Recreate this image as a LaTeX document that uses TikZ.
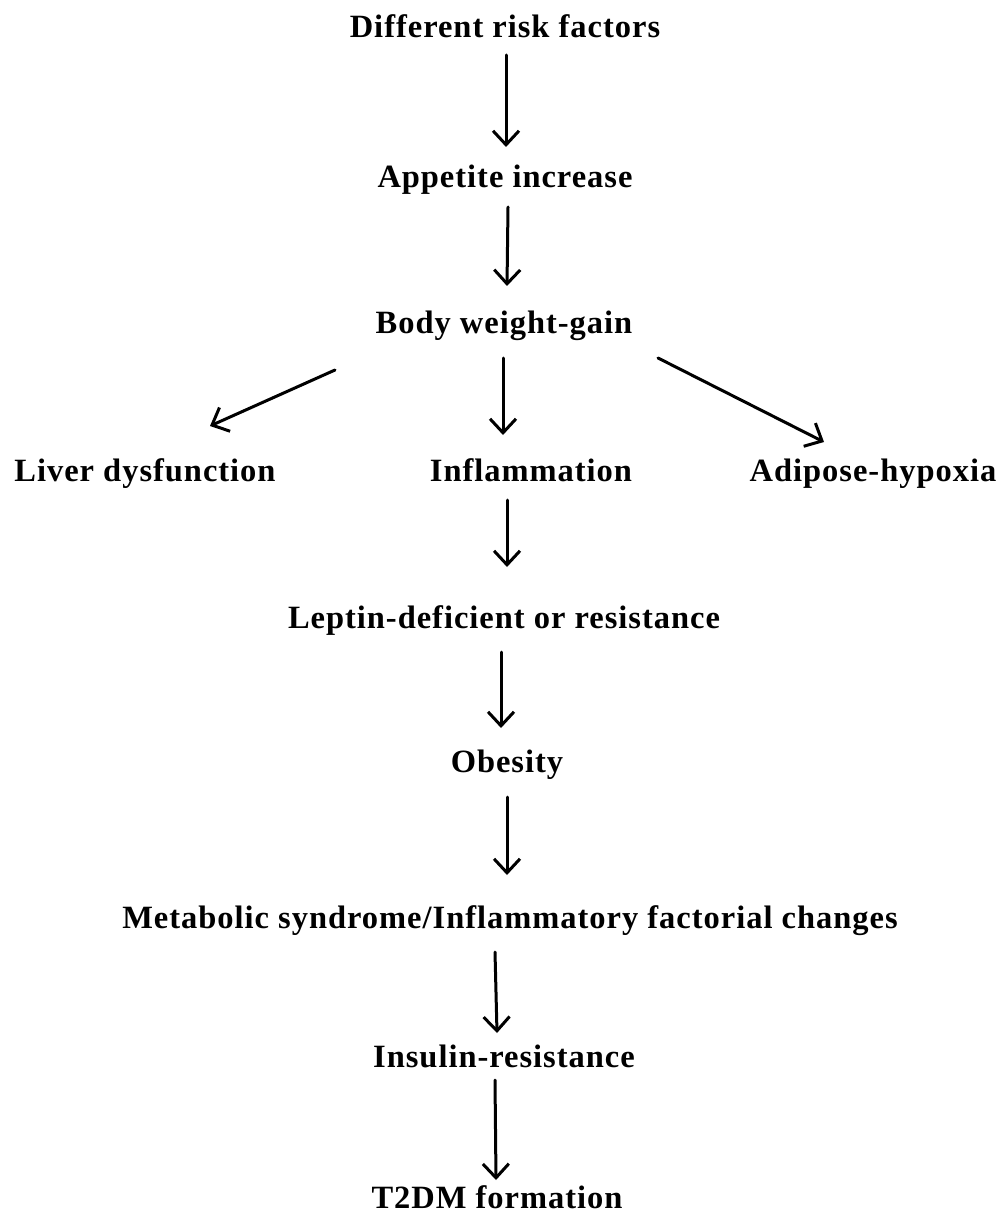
\documentclass[tikz,border=0pt]{standalone}
\usepackage{fontspec}
\setmainfont{Liberation Serif}[LetterSpace=3]
\usetikzlibrary{arrows.meta,calc}
\tikzset{
  lbl/.style={anchor=base,inner sep=0pt,font=\bfseries\fontsize{32.5}{38}\selectfont},
  arr/.style={line width=3pt,line cap=round,-{Straight Barb[length=14pt,width=26pt,line width=3pt]}}
}
\begin{document}
\begin{tikzpicture}[x=1pt,y=-1pt]
\useasboundingbox[fill=white] (0,0) rectangle (1005,1214);
\node[lbl] (risk) at (505,38) {Different risk factors};
\node[lbl] (app) at (505,188) {Appetite increase};
\node[lbl] (bw) at (504,333) {Body weight-gain};
\node[lbl] (liver) at (145,481) {Liver dysfunction};
\node[lbl] (infl) at (531,481) {Inflammation};
\node[lbl] (adip) at (873,481) {Adipose-hypoxia};
\node[lbl] (lep) at (504,628) {Leptin-deficient or resistance};
\node[lbl] (obe) at (507,772) {Obesity};
\node[lbl] (met) at (510,928) {Metabolic syndrome/Inflammatory factorial changes};
\node[lbl] (ins) at (504,1067) {Insulin-resistance};
\node[lbl] (t2dm) at (497,1208) {T2DM formation};

\draw[arr] ($(risk.base)+(1,17)$) -- ($(app.base)+(1,-41)$);
\draw[arr] ($(app.base)+(3,19)$) -- ($(bw.base)+(3,-47)$);
\draw[arr] ($(bw.base)+(-169,37)$) -- ($(liver.base)+(65,-55)$);
\draw[arr] ($(bw.base)+(-1,25)$) -- ($(infl.base)+(-28,-46)$);
\draw[arr] ($(bw.base)+(154,25)$) -- ($(adip.base)+(-49,-39)$);
\draw[arr] ($(infl.base)+(-24,19)$) -- ($(lep.base)+(3,-61)$);
\draw[arr] ($(lep.base)+(-3,24)$) -- ($(obe.base)+(-6,-44)$);
\draw[arr] ($(obe.base)+(0,25)$) -- ($(met.base)+(-3,-53)$);
\draw[arr] ($(met.base)+(-15,24)$) -- ($(ins.base)+(-7,-34)$);
\draw[arr] ($(ins.base)+(-9,13)$) -- ($(t2dm.base)+(-1,-28)$);
\end{tikzpicture}
\end{document}
